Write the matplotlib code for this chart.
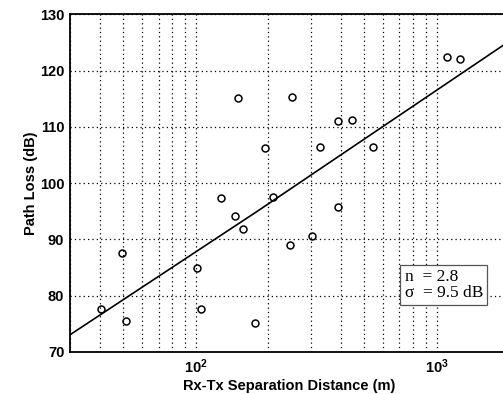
import matplotlib
matplotlib.use("Agg")
import matplotlib.pyplot as plt
from matplotlib.ticker import LogLocator, FixedLocator, NullFormatter

# Measured data (distance in m, path loss in dB)
distance_m = [40.3, 49.6, 51.1, 100.7, 104.8, 126.7, 145.4, 149.3, 157, 176.6,
              194, 209.5, 246, 250.6, 305, 328.6, 388.6, 391, 444.5, 545.5,
              1101, 1252]
path_loss_db = [77.7, 87.6, 75.5, 85.0, 77.6, 97.4, 94.2, 115.2, 91.9, 75.2,
                106.3, 97.5, 89.0, 115.3, 90.7, 106.4, 111.1, 95.8, 111.3, 106.4,
                122.5, 122.0]

# Fitted model line
fit_d = [30, 180, 2000]
fit_pl = [73.05, 95.0, 125.2]

y_ticks = [70, 80, 90, 100, 110, 120, 130]
annot_lines = ["n  = 2.8", "σ  = 9.5 dB"]

fig = plt.figure(figsize=(5.03, 3.94), dpi=100)
ax = fig.add_axes([0.139, 0.1066, 0.873, 0.857])

ax.plot(distance_m, path_loss_db, linestyle='none', marker='o', markersize=5.0,
        markerfacecolor='none', markeredgecolor='black', markeredgewidth=1.1)
ax.plot(fit_d, fit_pl, color='black', linewidth=1.2)

ax.set_xscale('log')
ax.set_xlim(30, 2000)
ax.set_ylim(70, 130)
ax.yaxis.set_major_locator(FixedLocator(y_ticks))
ax.xaxis.set_minor_locator(LogLocator(base=10, subs=range(2, 10)))
ax.xaxis.set_minor_formatter(NullFormatter())

ax.grid(True, which='major', axis='both', linestyle=(0, (1, 2.5)), color='black', linewidth=0.9)
ax.grid(True, which='minor', axis='x', linestyle=(0, (1, 2.5)), color='black', linewidth=0.9)

for s in ['left', 'top', 'bottom', 'right']:
    ax.spines[s].set_linewidth(1.3)
    ax.spines[s].set_color('black')

ax.tick_params(axis='both', which='both', direction='in', length=0, pad=4)
for lab in ax.get_xticklabels() + ax.get_yticklabels():
    lab.set_fontfamily('Liberation Sans')
    lab.set_fontweight('bold')
    lab.set_fontsize(10.5)
    lab.set_color('black')

ax.set_ylabel('Path Loss (dB)', fontfamily='Liberation Sans', fontweight='bold', fontsize=10.5, labelpad=1)
ax.set_xlabel('Rx-Tx Separation Distance (m)', fontfamily='Liberation Sans', fontweight='bold', fontsize=10.5, labelpad=2)

ax.text(0.762, 0.198, "\n".join(annot_lines), transform=ax.transAxes,
        fontfamily='Liberation Serif', fontsize=12.5, va='center', ha='left',
        linespacing=1.0,
        bbox=dict(boxstyle='square,pad=0.25', facecolor='white', edgecolor='#555555', linewidth=0.9))

fig.savefig('out.png', dpi=100)
